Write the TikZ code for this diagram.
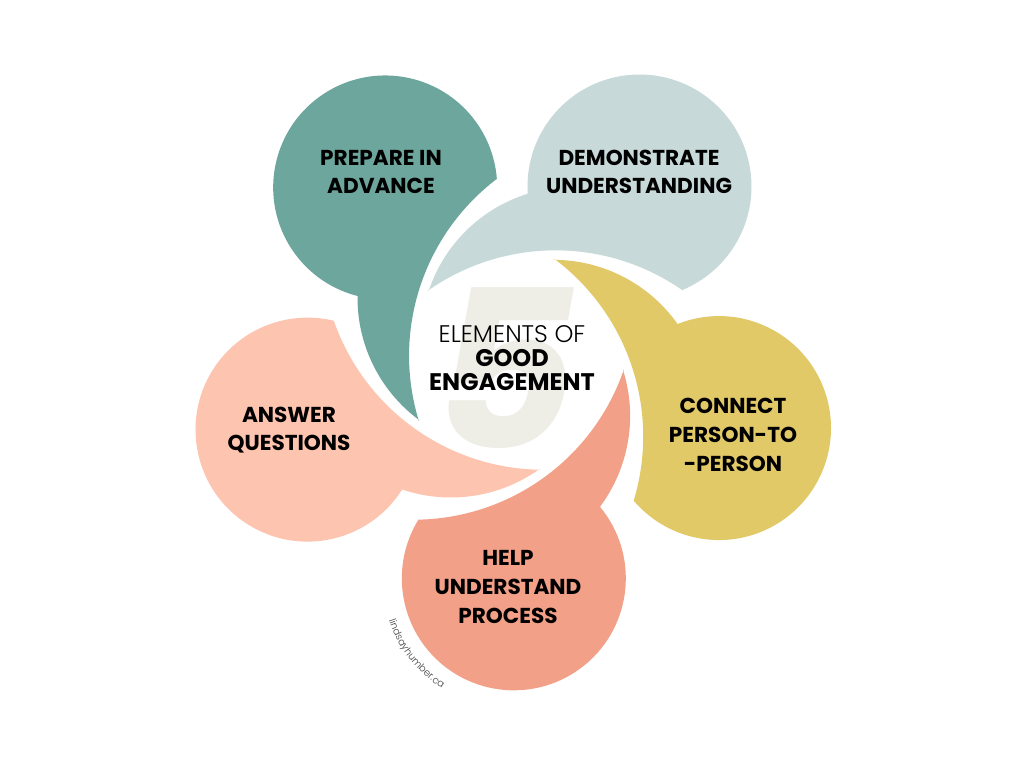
\documentclass[tikz,border=0pt]{standalone}
\usepackage{fontspec}
\usetikzlibrary{decorations.text}
\setmainfont{Poppins}
\newfontfamily\lightfont{Poppins Light}
\definecolor{tealc}{HTML}{6CA69C}
\definecolor{mistc}{HTML}{C7DAD9}
\definecolor{goldc}{HTML}{E2C968}
\definecolor{salmonc}{HTML}{F2A088}
\definecolor{peachc}{HTML}{FDC4B0}
\definecolor{fivec}{HTML}{EEEEE6}
% one speech bubble, circle below the hub, tail curling up the right side
\newcommand{\bubble}{(110,-8) arc[start angle=17.6,end angle=-36.7,radius=152]
  arc[start angle=39.7,end angle=-211.6,radius=112]
  arc[start angle=-88.8,end angle=-18.9,radius=222] -- cycle}

\begin{document}
\begin{tikzpicture}[x=0.75pt,y=0.75pt, itemtext/.style={align=center,font=\bfseries\fontsize{16.2}{21.5}\selectfont}]
\useasboundingbox[fill=white] (0,0) rectangle (1024,768);
\begin{scope}[shift={(513,406)}]
\fill[salmonc] \bubble;
\fill[goldc,rotate=72] \bubble;
\fill[mistc,rotate=144] \bubble;
\fill[tealc,rotate=216] \bubble;
\fill[peachc,rotate=288] \bubble;
\end{scope}
\node[text=fivec,font=\bfseries\fontsize{165}{165}\selectfont,xslant=0.18,transform shape] (five) at (508,400) {5};
\node[align=center,font=\fontsize{18}{18}\selectfont] (elem) at (512,410) {{\lightfont ELEMENTS OF}\\ \textbf{GOOD}\\ \textbf{ENGAGEMENT}};
\node[itemtext] (prep) at (381,596) {PREPARE IN\\ ADVANCE};
\node[itemtext] (demo) at (639,596) {DEMONSTRATE\\ UNDERSTANDING};
\node[itemtext] (conn) at (733,333) {CONNECT\\ PERSON-TO\\ -PERSON};
\node[itemtext] (help) at (508,181) {HELP\\ UNDERSTAND\\ PROCESS};
\node[itemtext] (answ) at (289,338) {ANSWER\\ QUESTIONS};
% site name curving round the help bubble
\path[decorate,decoration={text along path,text align=center,
  text={|\lightfont\fontsize{7.4}{9}\selectfont\color{black!75}|lindsayhumber.ca}}]
  (512,189) ++(194:130) arc[start angle=194,end angle=242,radius=130];
\end{tikzpicture}
\end{document}
